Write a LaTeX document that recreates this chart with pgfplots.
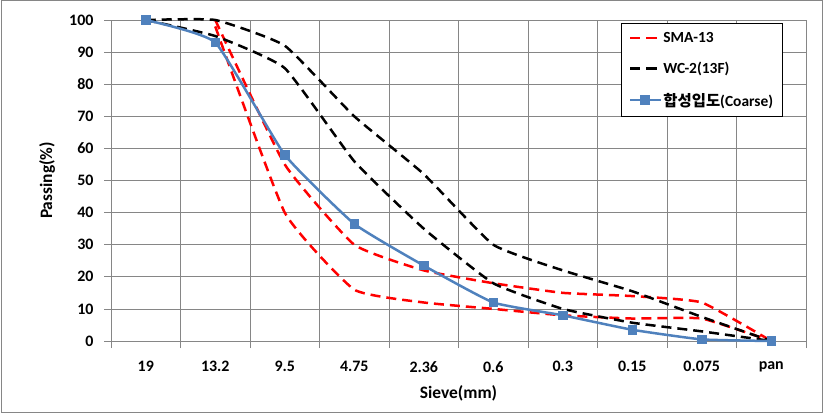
\documentclass[border=0pt]{standalone}
\usepackage{fontspec}
\setmainfont{Carlito}
\newfontfamily\cjk{Noto Sans CJK KR}
\usepackage{pgfplots}
\pgfplotsset{compat=1.18}
\definecolor{gridc}{RGB}{134,134,134}
\definecolor{blueline}{RGB}{79,129,189}
\definecolor{redline}{RGB}{255,0,0}
\begin{document}
\begin{tikzpicture}[x=1bp,y=1bp]
\useasboundingbox (0,0) rectangle (823,413);
\draw[gridc, line width=1bp] (1,1) rectangle (822,412);
\begin{axis}[
  at={(111bp,72bp)}, anchor=south west,
  scale only axis, width=695bp, height=321bp,
  xmin=-0.5, xmax=9.5, ymin=0, ymax=100,
  axis lines*=left,
  axis line style={gridc, line width=0.8bp},
  xtick={-0.5,0.5,...,9.5},
  xticklabels={},
  extra x ticks={0,1,...,9},
  extra x tick labels={19,13.2,9.5,4.75,2.36,0.6,0.3,0.15,0.075,pan},
  extra x tick style={major tick length=0pt, grid=none},
  ytick={0,10,...,100},
  xmajorgrids, ymajorgrids,
  grid style={gridc, line width=0.8bp},
  tick align=outside,
  tick style={gridc, line width=0.8bp},
  major tick length=7bp,
  /pgf/number format/assume math mode=true,
  ticklabel style={font=\bfseries\fontsize{16}{16}\selectfont, text=black},
  xticklabel style={yshift=-17bp},
  yticklabel style={xshift=-7bp},
  xlabel={Sieve(mm)},
  ylabel={Passing(\%)},
  every axis x label/.style={at={(axis description cs:0.5,-0.162)}, anchor=center, font=\bfseries\fontsize{17.5}{17.5}\selectfont},
  every axis y label/.style={at={(axis description cs:-0.092,0.5)}, rotate=90, anchor=center, font=\bfseries\fontsize{17.5}{17.5}\selectfont},
  legend style={at={(axis description cs:0.7345,0.9907)}, anchor=north west,
    draw=black, line width=0.8bp, fill=white,
    font=\bfseries\fontsize{15.5}{15.5}\selectfont,
    row sep=14bp, inner xsep=7bp, inner ysep=7bp},
  legend cell align=left,
  legend image code/.code={\draw[mark repeat=2,mark phase=2,#1] plot coordinates {(0bp,0bp) (15bp,0bp) (30bp,0bp)};},
  clip=false,
]
\addplot[redline, line width=2.5bp, dash pattern=on 10bp off 6bp, smooth, tension=0.25] coordinates {
 (1,100) (2,55) (3,30) (4,22) (5,18) (6,15) (7,14) (8,12) (9,0)};
\addlegendentry{SMA-13}
\addplot[redline, line width=2.5bp, dash pattern=on 10bp off 6bp, smooth, tension=0.25, forget plot] coordinates {
 (1,98) (2,40) (3,16) (4,12) (5,10) (6,8) (7,7) (8,7) (9,0)};
\addplot[black, line width=2.5bp, dash pattern=on 10bp off 6bp, smooth, tension=0.25] coordinates {
 (0,100) (1,100) (2,92) (3,70) (4,52) (5,30) (6,22) (7,15.5) (8,7.5) (9,0)};
\addlegendentry{WC-2(13F)}
\addplot[black, line width=2.5bp, dash pattern=on 10bp off 6bp, smooth, tension=0.25, forget plot] coordinates {
 (0,100) (1,95) (2,85) (3,56) (4,35) (5,18) (6,10) (7,5.7) (8,3) (9,0)};
\addplot[blueline, line width=2.5bp, smooth, tension=0.25, mark=square*, mark size=3.5bp, mark options={solid, fill=blueline}] coordinates {
 (0,100) (1,93) (2,58) (3,36.5) (4,23.5) (5,12) (6,8) (7,3.5) (8,0.5) (9,0)};
\addlegendentry{{\cjk\bfseries 합성입도}(Coarse)}
\end{axis}
\end{tikzpicture}
\end{document}
